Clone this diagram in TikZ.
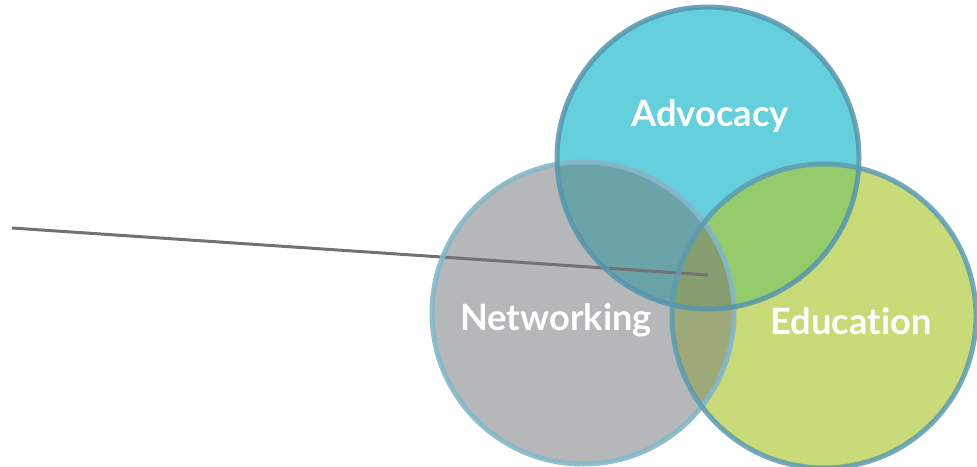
\documentclass[tikz,border=0pt]{standalone}
\usepackage{fontspec}
\setmainfont{Lato}[Ligatures=NoCommon]
\usetikzlibrary{positioning}

\definecolor{advfill}{HTML}{65CFDC}
\definecolor{netfill}{HTML}{B6B7B9}
\definecolor{edufill}{HTML}{C8DB78}
\definecolor{advnet}{HTML}{6AA3A8}
\definecolor{advedu}{HTML}{94CC6C}
\definecolor{netedu}{HTML}{9EA878}
\definecolor{allthree}{HTML}{879E70}
\definecolor{advline}{HTML}{5595AD}
\definecolor{netline}{HTML}{84B7C8}
\definecolor{eduline}{HTML}{5C9BB3}
\definecolor{pointer}{HTML}{727176}

\tikzset{
  ring/.style={line width=5*0.025cm},
  tag/.style={text=white, font=\fontsize{25.8}{30}\selectfont\bfseries}
}

\begin{document}
\begin{tikzpicture}[x=0.025cm, y=-0.025cm]
    \useasboundingbox (0,0) rectangle (977,466);

    % Circle centres
    \coordinate (advocacy) at (708,158);
    \coordinate (networking) at (583,313);
    \coordinate (education) at (824,316);

    % Fills
    \fill[advfill] (advocacy) circle (151);
    \fill[netfill] (networking) circle (151);
    \fill[edufill] (education) circle (152);

    % Overlaps
    \begin{scope}
        \clip (advocacy) circle (151);
        \fill[advnet] (networking) circle (151);
        \fill[advedu] (education) circle (152);
    \end{scope}
    \begin{scope}
        \clip (networking) circle (151);
        \fill[netedu] (education) circle (152);
        \clip (education) circle (152);
        \fill[allthree] (advocacy) circle (151);
    \end{scope}

    % Pointer
    \coordinate (start) at (12,228);
    \coordinate (tip) at (708,275);
    \draw[pointer, line width=3*0.025cm] (start) -- (tip);

    % Rings
    \draw[ring, netline, opacity=0.9] (networking) circle (151);
    \draw[ring, advline, opacity=0.85] (advocacy) circle (151);
    \draw[ring, eduline, opacity=0.85] (education) circle (152);

    % Labels
    \node[tag] (advtext) at (710,116) {Advocacy};
    \node[tag] (nettext) at (556,320) {Networking};
    \node[tag] (edutext) at (851,321) {Education};
\end{tikzpicture}
\end{document}
